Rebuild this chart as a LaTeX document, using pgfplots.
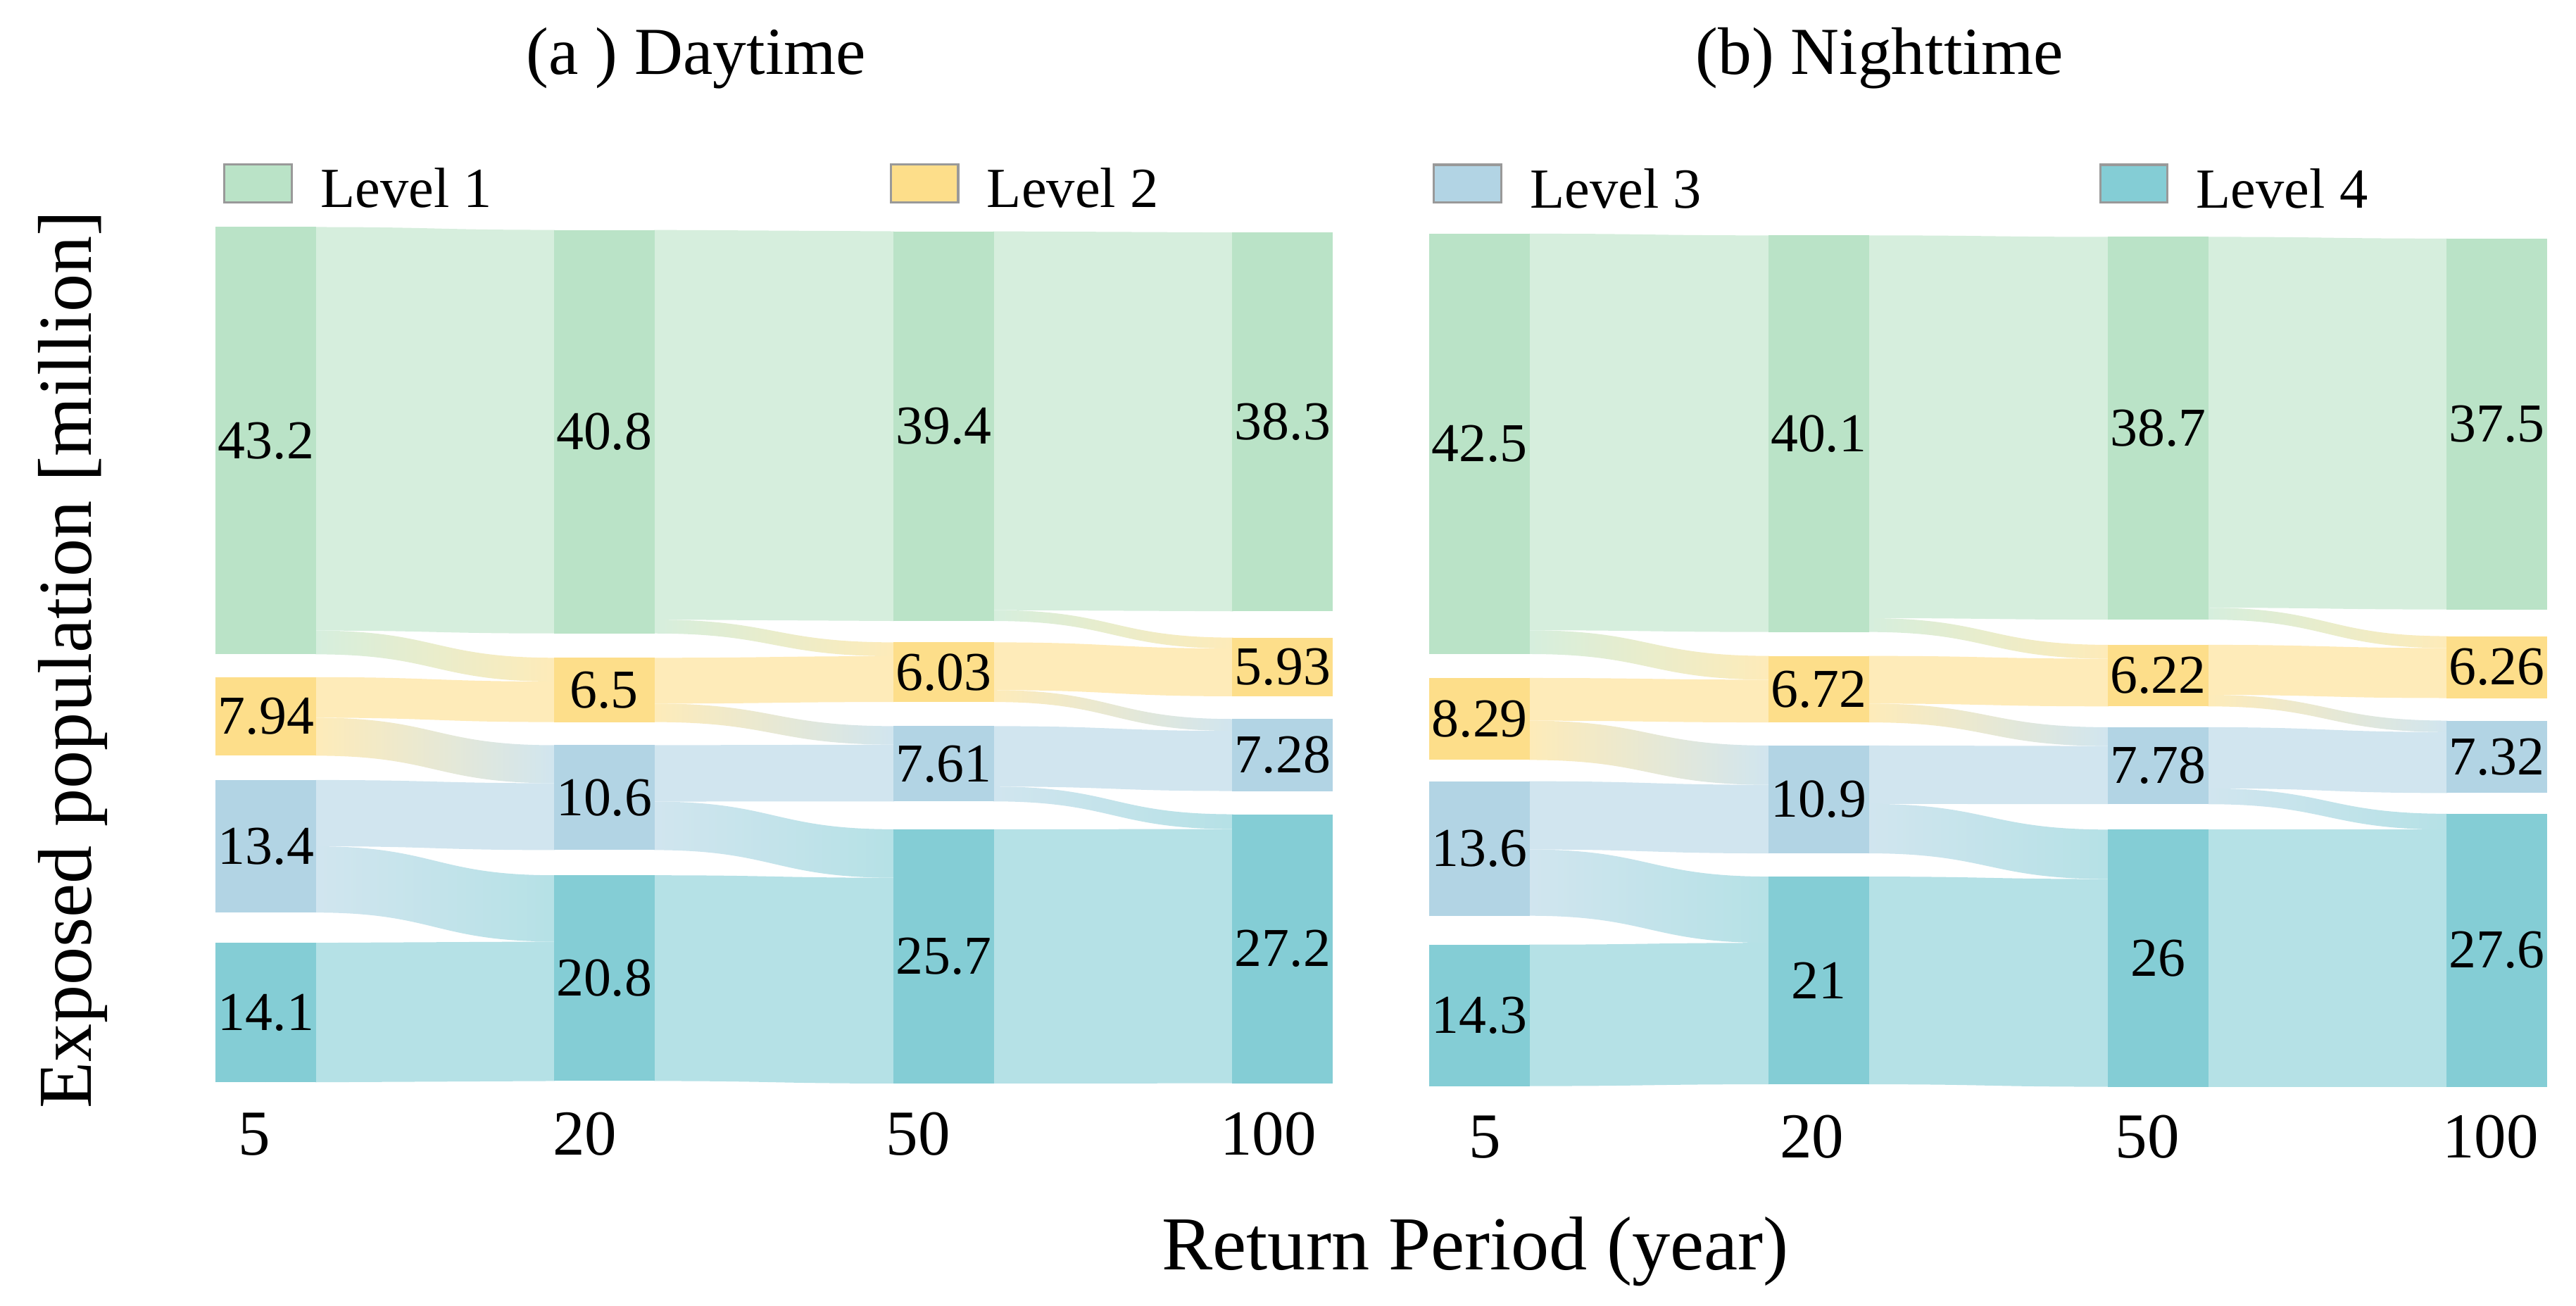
\documentclass[border=0pt]{standalone}
\usepackage{fontspec}
\setmainfont{Liberation Serif}
\usepackage{pgfplots}
\usepackage{pgfplotstable}
\pgfplotsset{compat=1.18}

\definecolor{c1}{RGB}{186,227,199}
\definecolor{c2}{RGB}{253,222,138}
\definecolor{c3}{RGB}{178,212,228}
\definecolor{c4}{RGB}{132,205,213}
\colorlet{f1}{c1!60!white}
\colorlet{f2}{c2!60!white}
\colorlet{f3}{c3!60!white}
\colorlet{f4}{c4!60!white}

% x = column centre, b = bottom of the node, v = exposed population (million)
\pgfplotstableread{
x      b1    v1   b2    v2   b3    v3   b4   v4
30.65  43.39 43.2 33.14 7.94 17.28 13.4 0.12 14.1
236.45 45.50 40.8 36.54 6.5  23.60 10.6 0.25 20.8
443.15 46.76 39.4 38.57 6.03 28.52 7.61 0    25.7
649.45 47.74 38.3 39.15 5.93 29.57 7.28 0.02 27.2
}\daytab

\pgfplotstableread{
x      b1    v1   b2    v2   b3    v3   b4   v4
30.65  43.75 42.5 33.04 8.29 17.29 13.6 0.07 14.3
236.95 45.98 40.1 36.84 6.72 23.60 10.9 0.25 21
443.65 47.23 38.7 38.46 6.22 28.57 7.78 0    26
649.85 48.26 37.5 39.30 6.26 29.70 7.32 0    27.6
}\nighttab

\newcommand\labfont{\fontsize{10}{12}\selectfont}

% read one column of the sankey into \X<s>, \Ba<s> ... \Vd<s>
\newcommand\getrow[3]{%
  \pgfplotstablegetelem{#2}{x}\of#1\expandafter\let\csname X#3\endcsname\pgfplotsretval
  \pgfplotstablegetelem{#2}{b1}\of#1\expandafter\let\csname Ba#3\endcsname\pgfplotsretval
  \pgfplotstablegetelem{#2}{v1}\of#1\expandafter\let\csname Va#3\endcsname\pgfplotsretval
  \pgfplotstablegetelem{#2}{b2}\of#1\expandafter\let\csname Bb#3\endcsname\pgfplotsretval
  \pgfplotstablegetelem{#2}{v2}\of#1\expandafter\let\csname Vb#3\endcsname\pgfplotsretval
  \pgfplotstablegetelem{#2}{b3}\of#1\expandafter\let\csname Bc#3\endcsname\pgfplotsretval
  \pgfplotstablegetelem{#2}{v3}\of#1\expandafter\let\csname Vc#3\endcsname\pgfplotsretval
  \pgfplotstablegetelem{#2}{b4}\of#1\expandafter\let\csname Bd#3\endcsname\pgfplotsretval
  \pgfplotstablegetelem{#2}{v4}\of#1\expandafter\let\csname Vd#3\endcsname\pgfplotsretval
}

% one ribbon: xa, source low, source high, xb, target low, target high, colours
\newcommand\band[8]{%
  \pgfmathsetmacro\ya{#2}\pgfmathsetmacro\yb{#3}%
  \pgfmathsetmacro\yc{#5}\pgfmathsetmacro\yd{#6}%
  \pgfmathsetmacro\xm{0.5*(#1+#4)}%
  \edef\tmp{\noexpand\shade[left color=#7,right color=#8]
    (axis cs:#1,\yb) .. controls (axis cs:\xm,\yb) and (axis cs:\xm,\yd) .. (axis cs:#4,\yd)
    -- (axis cs:#4,\yc) .. controls (axis cs:\xm,\yc) and (axis cs:\xm,\ya) .. (axis cs:#1,\ya) -- cycle;}%
  \tmp}

\newcommand\sankeyflows[1]{%
  \foreach \i in {0,1,2}{%
    \pgfmathtruncatemacro\nxt{\i+1}%
    \getrow{#1}{\i}{s}\getrow{#1}{\nxt}{t}%
    \pgfmathsetmacro\xa{\Xs+30.15}%
    \pgfmathsetmacro\xb{\Xt-30.15}%
    \pgfmathsetmacro\dA{\Vas-\Vat}%  level 1 -> 2
    \pgfmathsetmacro\dC{\Vdt-\Vds}%  level 3 -> 4
    \pgfmathsetmacro\dB{\Vbs+\dA-\Vbt}% level 2 -> 3
    \band{\xa}{\Bas+\dA}{\Bas+\Vas}{\xb}{\Bat}{\Bat+\Vat}{f1}{f1}%
    \band{\xa}{\Bas}{\Bas+\dA}{\xb}{\Bbt+\Vbt-\dA}{\Bbt+\Vbt}{f1}{f2}%
    \band{\xa}{\Bbs+\dB}{\Bbs+\Vbs}{\xb}{\Bbt}{\Bbt+\Vbt-\dA}{f2}{f2}%
    \band{\xa}{\Bbs}{\Bbs+\dB}{\xb}{\Bct+\Vct-\dB}{\Bct+\Vct}{f2}{f3}%
    \band{\xa}{\Bcs+\dC}{\Bcs+\Vcs}{\xb}{\Bct}{\Bct+\Vct-\dB}{f3}{f3}%
    \band{\xa}{\Bcs}{\Bcs+\dC}{\xb}{\Bdt+\Vdt-\dC}{\Bdt+\Vdt}{f3}{f4}%
    \band{\xa}{\Bds}{\Bds+\Vds}{\xb}{\Bdt}{\Bdt+\Vdt-\dC}{f4}{f4}%
  }}

% node boxes (thick error bars from b up by v) and their labels
\newcommand\nodeplot[3]{%
  \addplot[forget plot, only marks, mark=none, mark size=0pt, color=#3,
    error bars/.cd, y dir=plus, y explicit, error mark=none,
    error bar style={line width=18.39pt, color=#3, solid}]
    table[x=x, y=b#2, y error=v#2]{#1};
  \addplot[forget plot, only marks, mark=none, mark size=0pt, point meta=explicit symbolic,
    nodes near coords={\pgfplotspointmeta},
    every node near coord/.append style={anchor=center, font=\labfont, text=black}]
    table[x=x, y expr=\thisrow{b#2}+0.5*\thisrow{v#2}, meta=v#2]{#1};
}

\pgfplotsset{
  sankey/.style={
    x=0.3pt, y=1.806pt,
    xmin=0, xmax=680.4, ymin=-1, ymax=88,
    axis line style={draw=none},
    major tick length=0pt,
    ytick=\empty,
    xticklabels={\textrm{5},\textrm{20},\textrm{50},\textrm{100}},
    xticklabel style={font=\fontsize{11.7}{14}\selectfont, anchor=base, yshift=-11.19pt},
    clip=false,
    every axis title/.style={font=\fontsize{12.27}{14}\selectfont, anchor=base},
    legend columns=2,
    legend image code/.code={\draw[#1, draw=gray!80, line width=0.4pt] (0pt,0.95pt) rectangle (12.3pt,7.85pt);},
    legend style={draw=none, fill=none, inner sep=0pt, outer sep=0pt, anchor=west,
      cells={anchor=base west},
      nodes={inner sep=0pt, text depth=0pt, font=\fontsize{10.35}{12}\selectfont},
      /tikz/every odd column/.style={column sep=5.05pt},
      /tikz/every even column/.style={column sep=72.6pt}},
  }
}

\begin{document}
\begin{tikzpicture}
\path[use as bounding box] (-39.39pt,-38.7pt) rectangle (431.01pt,199.65pt);

\begin{axis}[sankey, at={(0pt,0pt)}, anchor=south west,
  xtick={23.7,224.7,427.7,640.7},
  title={(a ) Daytime}, title style={at={(0.430,1.158)}},
  xlabel={Return Period (year)},
  xlabel style={at={(1.1268,-0.2003)}, anchor=base, font=\fontsize{13.92}{16}\selectfont},
  ylabel={Exposed population [million]},
  ylabel style={at={(-0.1111,0.4929)}, anchor=base, font=\fontsize{13.92}{16}\selectfont},
  legend style={at={(0.0069,1.0312)}}]
\sankeyflows{\daytab}
\nodeplot{\daytab}{1}{c1}
\nodeplot{\daytab}{2}{c2}
\nodeplot{\daytab}{3}{c3}
\nodeplot{\daytab}{4}{c4}
\addlegendimage{fill=c1}\addlegendentry{Level 1}
\addlegendimage{fill=c2}\addlegendentry{Level 2}
\end{axis}

\begin{axis}[sankey, at={(221.61pt,-0.6pt)}, anchor=south west,
  xtick={34,233,437,646},
  title={(b) Nighttime}, title style={at={(0.4027,1.1618)}},
  legend style={at={(0.0031,1.0349)}}]
\sankeyflows{\nighttab}
\nodeplot{\nighttab}{1}{c1}
\nodeplot{\nighttab}{2}{c2}
\nodeplot{\nighttab}{3}{c3}
\nodeplot{\nighttab}{4}{c4}
\addlegendimage{fill=c3}\addlegendentry{Level 3}
\addlegendimage{fill=c4}\addlegendentry{Level 4}
\end{axis}
\end{tikzpicture}
\end{document}
